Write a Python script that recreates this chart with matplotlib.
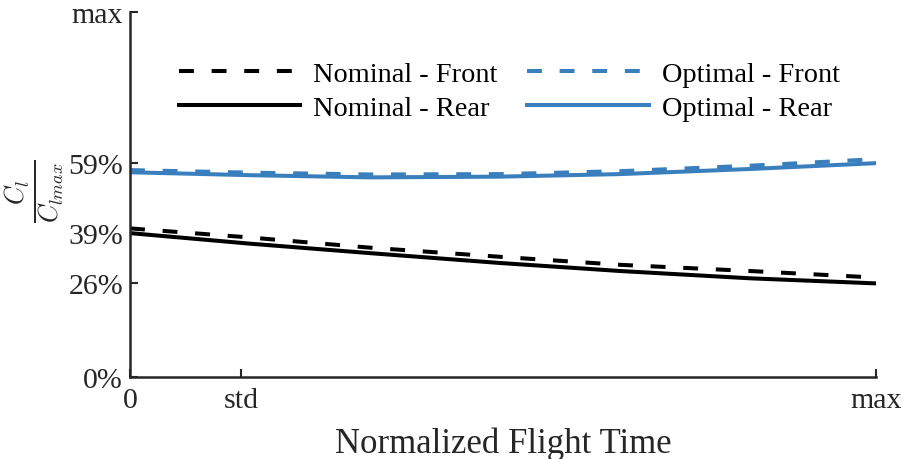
import matplotlib.pyplot as plt

plt.rcParams.update({
    "font.family": "serif",
    "font.serif": ["Liberation Serif", "DejaVu Serif"],
    "mathtext.fontset": "cm",
    "font.size": 21,
})

# ---------------------------------------------------------
# Data: lift coefficient ratio [%] vs normalized flight time
# ---------------------------------------------------------
t_norm = [0.0, 0.161, 0.322, 0.496, 0.657, 0.831, 1.0]

nominal_front = [40.7, 38.2, 35.4, 32.9, 30.7, 29.0, 27.2]
nominal_rear  = [39.4, 36.5, 33.9, 31.2, 29.0, 27.0, 25.6]
optimal_front = [56.7, 56.0, 55.5, 55.6, 56.4, 57.9, 59.7]
optimal_rear  = [56.1, 55.3, 54.7, 54.9, 55.6, 57.0, 58.6]

t_std = 0.149
x_ticks  = [0.0, t_std, 1.0]
x_labels = ["0", "std", "max"]

BLUE  = "#3a7fbd"
BLACK = "black"
AXC   = "#262626"
LW    = 2.9
DASH  = (3.7, 4.4)

# ---------------------------------------------------------
# Figure
# ---------------------------------------------------------
fig = plt.figure(figsize=(9.03, 4.60), dpi=100)
ax = fig.add_axes([0.144, 0.179, 0.826, 0.792])

ax.plot(t_norm, nominal_front, color=BLACK, lw=LW, dashes=DASH, label="Nominal - Front")
ax.plot(t_norm, nominal_rear,  color=BLACK, lw=LW, label="Nominal - Rear")
ax.plot(t_norm, optimal_front, color=BLUE,  lw=LW, dashes=DASH, label="Optimal - Front")
ax.plot(t_norm, optimal_rear,  color=BLUE,  lw=LW, label="Optimal - Rear")

# y ticks mark the start/end values of the rear curves
y_ticks = [0, nominal_rear[-1], nominal_rear[0], optimal_rear[-1], 100]
y_labels = ["0%"] + [f"{v:.0f}%" for v in y_ticks[1:4]] + ["max"]

ax.set_xlim(0, 1)
ax.set_ylim(0, 100)
ax.set_xticks(x_ticks)
ax.set_xticklabels(x_labels)
ax.set_yticks(y_ticks)
ax.set_yticklabels(y_labels)

for side in ["top", "right"]:
    ax.spines[side].set_visible(False)
for side in ["left", "bottom"]:
    ax.spines[side].set_linewidth(1.8)
    ax.spines[side].set_color(AXC)
ax.tick_params(direction="in", length=6, width=1.5, color=AXC,
               labelsize=21.5, labelcolor=AXC, pad=5)
ax.tick_params(axis="x", pad=7.5)

ax.set_xlabel("Normalized Flight Time", fontsize=25, color=AXC, labelpad=10)
ax.set_ylabel(r"$\frac{C_l}{C_{lmax}}$", fontsize=26.5, color=AXC)
ax.yaxis.set_label_coords(-0.085, 0.51)

handles, labels = ax.get_legend_handles_labels()
order = [0, 1, 2, 3]
ax.legend([handles[i] for i in order], [labels[i] for i in order],
          ncol=2, frameon=False, fontsize=20.4, handlelength=4.3,
          handletextpad=0.45, columnspacing=1.05, labelspacing=0.3,
          loc="upper left", bbox_to_anchor=(0.031, 0.937))

plt.savefig("out.png", dpi=100)
plt.close()
